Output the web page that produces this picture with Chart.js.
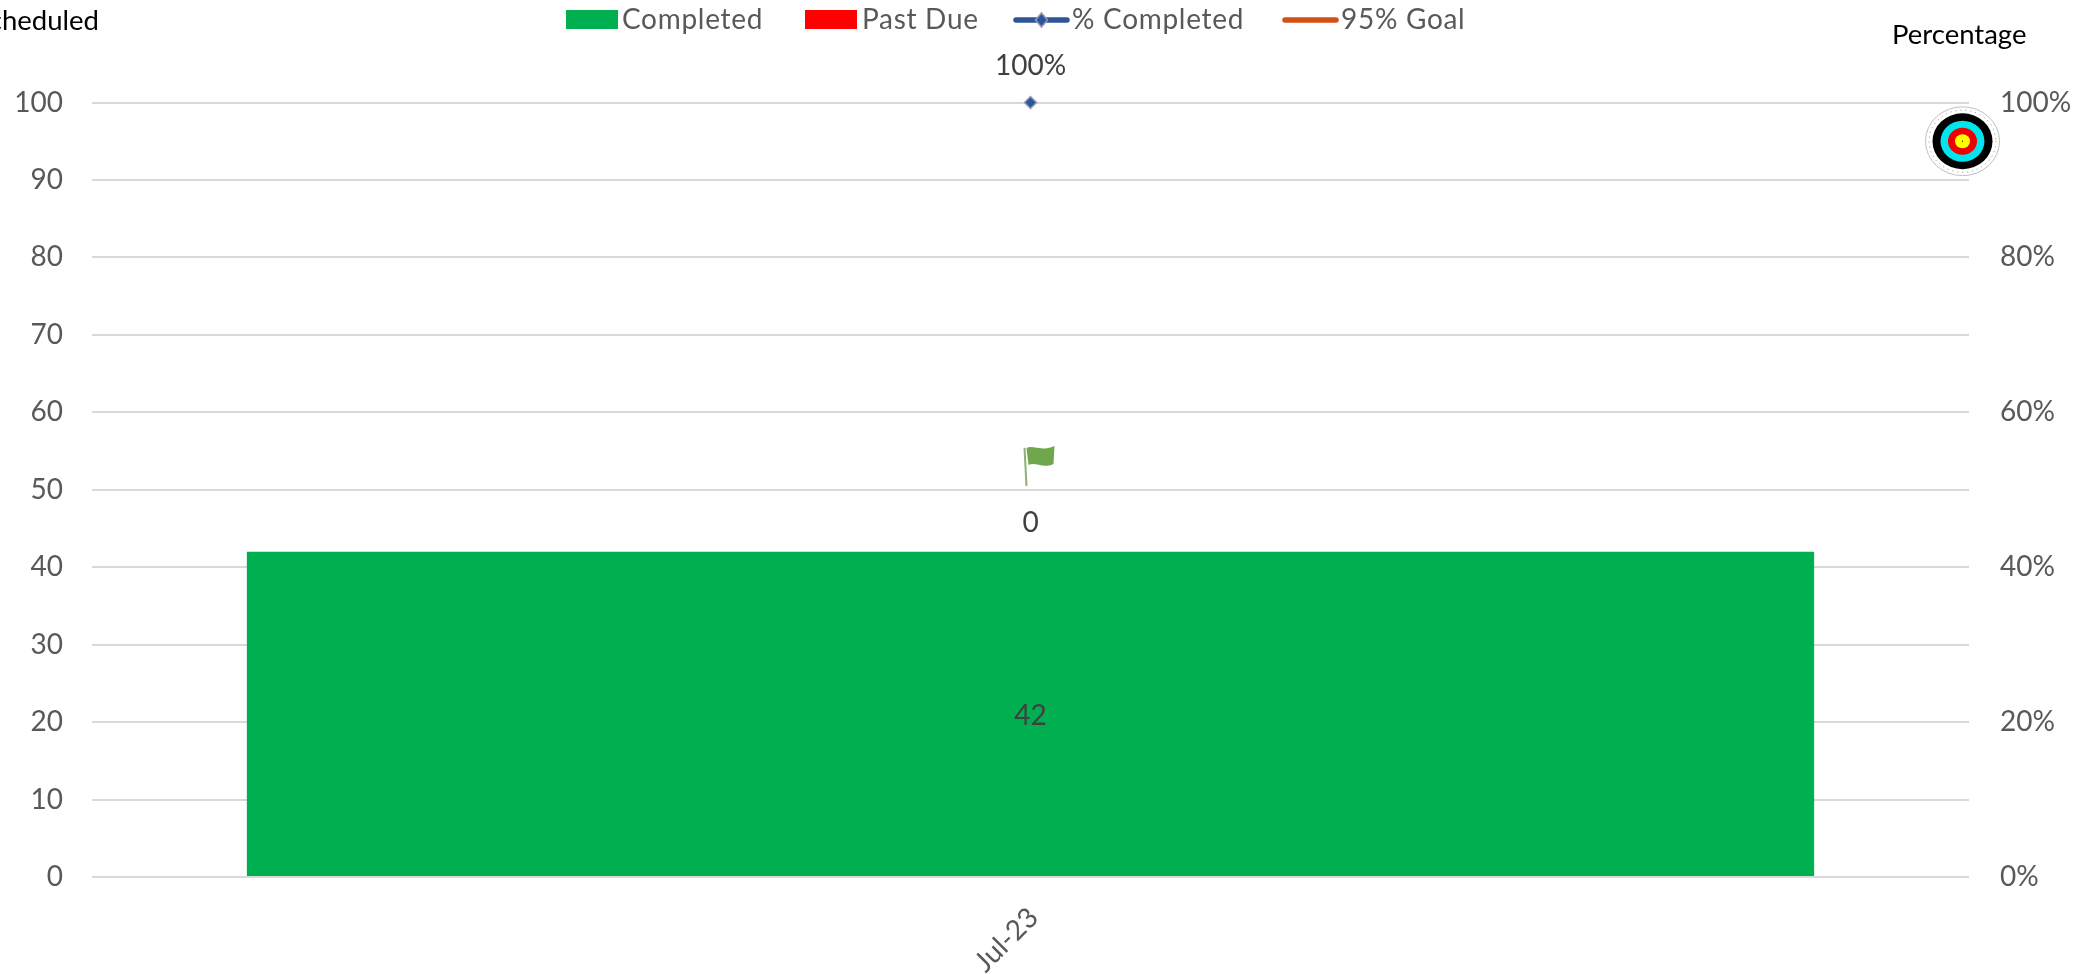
<!DOCTYPE html>
<html>
<head>
<meta charset="utf-8">
<title>Scheduled vs Percentage</title>
<script src="https://cdn.jsdelivr.net/npm/chart.js@4"></script>
<style>html,body{margin:0;padding:0;background:#fff;overflow:hidden}canvas{display:block}</style>
</head>
<body>
<canvas id="c" width="2093" height="974"></canvas>
<script>
const categories = ['Jul-23'];
const completed = [42];
const pastDue = [0];
const pctCompleted = [100];
const goal = [95];
const leftTicks = [0,10,20,30,40,50,60,70,80,90,100];
const rightTicks = [0,20,40,60,80,100];
const flagValue = [50.5];

const FONT = 'Lato, Carlito, sans-serif';
const SIZE = 28;
const GREY = '#595959';

const overlays = {
  id: 'overlays',
  afterDatasetsDraw(chart) {
    const ctx = chart.ctx;
    const y = chart.scales.y, y1 = chart.scales.y1, x = chart.scales.x;
    const cx = x.getPixelForValue(0);
    ctx.save();
    ctx.textBaseline = 'middle';
    ctx.textAlign = 'center';
    ctx.font = SIZE + 'px ' + FONT;

    // data labels
    ctx.fillStyle = '#404040';
    ctx.fillText(String(completed[0]), cx, y.getPixelForValue(completed[0] / 2) + 1.5);
    ctx.fillText(String(pastDue[0]), cx, y.getPixelForValue(completed[0] + pastDue[0]) - 29);
    ctx.fillText(pctCompleted[0] + '%', cx, y1.getPixelForValue(pctCompleted[0]) - 37);

    // axis captions
    ctx.fillStyle = '#000';
    ctx.font = '27.5px ' + FONT;
    ctx.textAlign = 'right';
    ctx.fillText('Scheduled', 99, 21);
    ctx.textAlign = 'left';
    ctx.fillText('Percentage', 1892, 35);

    // flag
    const fy = y.getPixelForValue(flagValue[0]);
    const fx = cx - 6;
    ctx.strokeStyle = '#8db07a';
    ctx.lineWidth = 2;
    ctx.beginPath(); ctx.moveTo(fx + 2, fy); ctx.lineTo(fx, fy - 38); ctx.stroke();
    ctx.fillStyle = '#70a64c';
    ctx.beginPath();
    ctx.moveTo(fx + 2, fy - 38);
    ctx.bezierCurveTo(fx + 10, fy - 41, fx + 16, fy - 34, fx + 30, fy - 40);
    ctx.lineTo(fx + 29, fy - 22);
    ctx.bezierCurveTo(fx + 18, fy - 17, fx + 12, fy - 24, fx + 4, fy - 21);
    ctx.closePath();
    ctx.fill();

    // target at the 95% goal level
    const tx = chart.chartArea.right - 6.5, ty = y1.getPixelForValue(goal[0]);
    const ring = (r, fill, stroke) => {
      ctx.beginPath();
      ctx.ellipse(tx, ty, r, r * 0.93, 0, 0, Math.PI * 2);
      if (fill) { ctx.fillStyle = fill; ctx.fill(); }
      if (stroke) { ctx.strokeStyle = stroke; ctx.lineWidth = 1; ctx.stroke(); }
    };
    ring(37, '#fff', '#bfbfbf');
    ctx.setLineDash([1, 4]);
    ring(33.5, null, '#8c8c8c');
    ctx.setLineDash([]);
    ring(30, '#000');
    ring(22, '#00e5ee');
    ring(14.5, '#f00000');
    ring(7.5, '#ffff00');
    ctx.fillStyle = '#000';
    ctx.fillRect(tx - 0.5, ty - 0.5, 1, 1);

    // legend
    const ds = chart.data.datasets;
    const items = [
      { i: 0, x0: 566, x1: 618, tx: 622 },
      { i: 1, x0: 805, x1: 857, tx: 862 },
      { i: 2, x0: 1013, x1: 1070, tx: 1072 },
      { i: 3, x0: 1282, x1: 1339, tx: 1341 }
    ];
    ctx.font = SIZE + 'px ' + FONT;
    ctx.letterSpacing = '0.7px';
    ctx.textAlign = 'left';
    items.forEach(it => {
      const d = ds[it.i];
      if (d.type === 'bar' || !d.type) {
        ctx.fillStyle = d.backgroundColor;
        ctx.fillRect(it.x0, 10, it.x1 - it.x0, 19);
      } else {
        ctx.strokeStyle = d.borderColor;
        ctx.lineWidth = 5.5;
        ctx.lineCap = 'round';
        ctx.beginPath(); ctx.moveTo(it.x0 + 3, 20); ctx.lineTo(it.x1 - 3, 20); ctx.stroke();
        if (it.i === 2) {
          const m = (it.x0 + it.x1) / 2;
          ctx.fillStyle = d.backgroundColor;
          ctx.strokeStyle = d.pointBorderColor;
          ctx.lineWidth = 1.5;
          ctx.beginPath();
          ctx.moveTo(m, 13); ctx.lineTo(m + 6, 20); ctx.lineTo(m, 27); ctx.lineTo(m - 6, 20);
          ctx.closePath(); ctx.fill(); ctx.stroke();
        }
      }
      ctx.fillStyle = GREY;
      ctx.fillText(d.label, it.tx, 19.5);
    });
    ctx.restore();
  }
};

new Chart(document.getElementById('c'), {
  data: {
    labels: categories,
    datasets: [
      { type: 'bar', label: 'Completed', data: completed, backgroundColor: '#00b050', yAxisID: 'y', order: 3,
        barPercentage: 0.835, categoryPercentage: 1 },
      { type: 'bar', label: 'Past Due', data: pastDue, backgroundColor: '#ff0000', yAxisID: 'y', order: 2,
        barPercentage: 0.835, categoryPercentage: 1 },
      { type: 'line', label: '% Completed', data: pctCompleted, borderColor: '#2f5597', backgroundColor: '#2f5597',
        pointBackgroundColor: '#2f5597', pointBorderColor: '#8f9bb3', pointBorderWidth: 1.5,
        pointStyle: 'rectRot', pointRadius: 6, yAxisID: 'y1', order: 1, clip: false },
      { type: 'line', label: '95% Goal', data: goal, borderColor: '#d34f14', backgroundColor: '#d34f14',
        pointRadius: 0, yAxisID: 'y1', order: 0 }
    ]
  },
  options: {
    responsive: false,
    animation: false,
    layout: { padding: { top: 102.5, left: 0, right: 0, bottom: 0 } },
    plugins: { legend: { display: false }, title: { display: false }, tooltip: { enabled: false } },
    scales: {
      x: {
        stacked: true,
        grid: { display: false },
        border: { display: false },
        ticks: { color: GREY, font: { family: FONT, size: SIZE }, minRotation: 45, maxRotation: 45, padding: 16, labelOffset: 3 },
        afterFit(s) { s.height = 97; }
      },
      y: {
        stacked: true,
        position: 'left',
        min: 0, max: 100,
        afterBuildTicks(s) { s.ticks = leftTicks.map(v => ({ value: v })); },
        grid: { color: '#d9d9d9', lineWidth: 2, drawTicks: false },
        border: { display: false },
        ticks: { color: GREY, font: { family: FONT, size: SIZE }, padding: 29 },
        afterFit(s) { s.width = 92; }
      },
      y1: {
        position: 'right',
        min: 0, max: 100,
        afterBuildTicks(s) { s.ticks = rightTicks.map(v => ({ value: v })); },
        grid: { display: false, drawTicks: false },
        border: { display: false },
        ticks: { color: GREY, font: { family: FONT, size: SIZE }, padding: 31, callback: v => v + '%' },
        afterFit(s) { s.width = 124; }
      }
    }
  },
  plugins: [overlays]
});
</script>
</body>
</html>
